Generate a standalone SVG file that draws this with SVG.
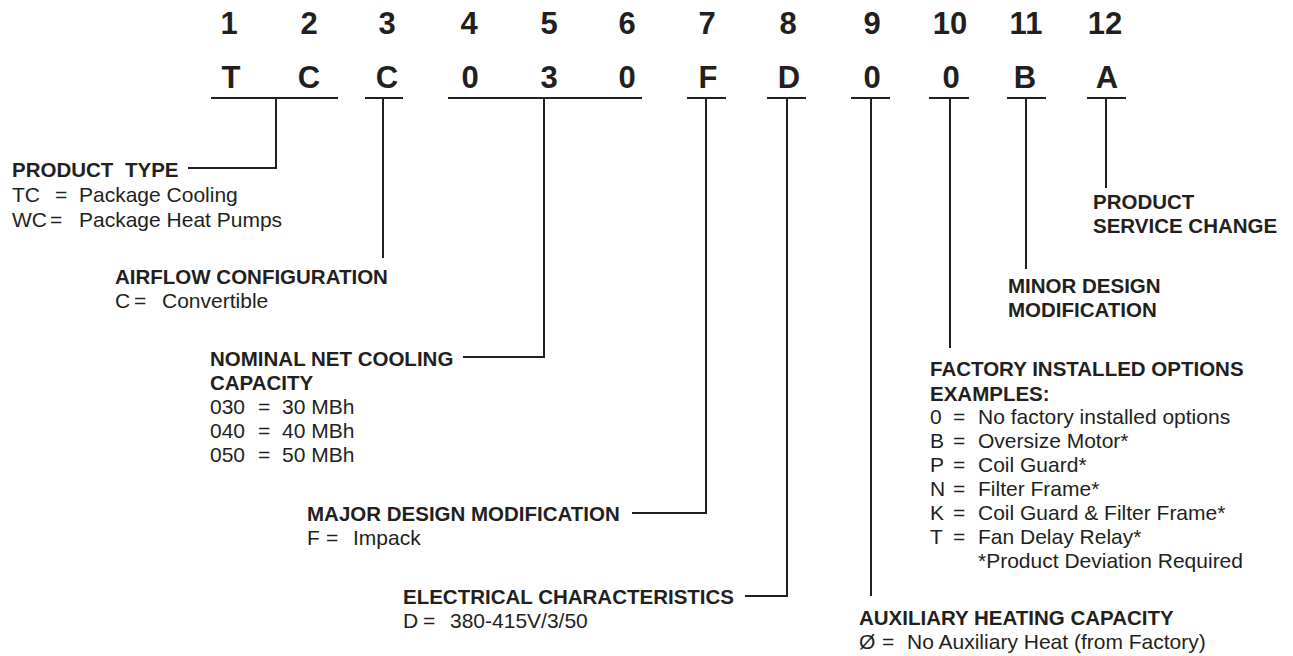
<svg xmlns="http://www.w3.org/2000/svg" width="1293" height="656" viewBox="0 0 1293 656">
<style>
.bg{fill:#ffffff}
.num{font-family:"Liberation Sans",Arial,sans-serif;font-weight:bold;font-size:31px;fill:#231f20;text-anchor:middle}
.code{font-family:"Liberation Sans",Arial,sans-serif;font-weight:bold;font-size:31px;fill:#231f20;text-anchor:middle}
.h{font-family:"Liberation Sans",Arial,sans-serif;font-weight:bold;font-size:20.5px;fill:#231f20}
.t{font-family:"Liberation Sans",Arial,sans-serif;font-size:21px;fill:#231f20}
.ln{fill:none;stroke:#231f20;stroke-width:2}
</style>
<rect class="bg" x="0" y="0" width="1293" height="656"/>
<g id="positions">
<text class="num" x="229" y="34">1</text>
<text class="num" x="309" y="34">2</text>
<text class="num" x="387" y="34">3</text>
<text class="num" x="469" y="34">4</text>
<text class="num" x="549" y="34">5</text>
<text class="num" x="627" y="34">6</text>
<text class="num" x="707" y="34">7</text>
<text class="num" x="788" y="34">8</text>
<text class="num" x="872" y="34">9</text>
<text class="num" x="950" y="34">10</text>
<text class="num" x="1026" y="34">11</text>
<text class="num" x="1105" y="34">12</text>
</g>
<g id="code">
<text class="code" x="231" y="88">T</text>
<text class="code" x="309" y="88">C</text>
<text class="code" x="387" y="88">C</text>
<text class="code" x="470" y="88">0</text>
<text class="code" x="549" y="88">3</text>
<text class="code" x="627" y="88">0</text>
<text class="code" x="708" y="88">F</text>
<text class="code" x="789" y="88">D</text>
<text class="code" x="872" y="88">0</text>
<text class="code" x="951" y="88">0</text>
<text class="code" x="1025" y="88">B</text>
<text class="code" x="1107" y="88">A</text>
</g>
<g id="connectors">
<path class="ln" d="M211 98H338M276 98V168H188"/>
<path class="ln" d="M365 98H403M383 98V258"/>
<path class="ln" d="M448 98H642M544 98V357H463"/>
<path class="ln" d="M687 98H726M706 98V513H632"/>
<path class="ln" d="M767 98H806M787 98V596H745"/>
<path class="ln" d="M851 98H890M871 98V596"/>
<path class="ln" d="M929 98H969M950 98V348"/>
<path class="ln" d="M1007 98H1046M1026 98V269"/>
<path class="ln" d="M1087 98H1126M1106 98V188"/>
</g>
<g id="product-type">
<text class="h" y="177"><tspan x="12">PRODUCT</tspan><tspan x="125">TYPE</tspan></text>
<text class="t" y="202"><tspan x="12">TC</tspan><tspan x="55">=</tspan><tspan x="79">Package Cooling</tspan></text>
<text class="t" y="227"><tspan x="12">WC</tspan><tspan x="50">=</tspan><tspan x="79">Package Heat Pumps</tspan></text>
</g>
<g id="airflow-configuration">
<text class="h" x="115" y="284">AIRFLOW CONFIGURATION</text>
<text class="t" y="308"><tspan x="115">C</tspan><tspan x="134">=</tspan><tspan x="162">Convertible</tspan></text>
</g>
<g id="nominal-net-cooling-capacity">
<text class="h" x="210" y="366">NOMINAL NET COOLING</text>
<text class="h" x="210" y="390">CAPACITY</text>
<text class="t" y="414"><tspan x="210">030</tspan><tspan x="258">=</tspan><tspan x="282">30 MBh</tspan></text>
<text class="t" y="438"><tspan x="210">040</tspan><tspan x="258">=</tspan><tspan x="282">40 MBh</tspan></text>
<text class="t" y="462"><tspan x="210">050</tspan><tspan x="258">=</tspan><tspan x="282">50 MBh</tspan></text>
</g>
<g id="major-design-modification">
<text class="h" x="307" y="521">MAJOR DESIGN MODIFICATION</text>
<text class="t" y="545"><tspan x="307">F</tspan><tspan x="326">=</tspan><tspan x="353">Impack</tspan></text>
</g>
<g id="electrical-characteristics">
<text class="h" x="403" y="604">ELECTRICAL CHARACTERISTICS</text>
<text class="t" y="628"><tspan x="403">D</tspan><tspan x="423">=</tspan><tspan x="450">380-415V/3/50</tspan></text>
</g>
<g id="auxiliary-heating-capacity">
<text class="h" x="859" y="625">AUXILIARY HEATING CAPACITY</text>
<text class="t" y="649"><tspan x="859">Ø</tspan><tspan x="882">=</tspan><tspan x="907">No Auxiliary Heat (from Factory)</tspan></text>
</g>
<g id="factory-installed-options">
<text class="h" x="930" y="376">FACTORY INSTALLED OPTIONS</text>
<text class="h" x="930" y="401">EXAMPLES:</text>
<text class="t" y="424"><tspan x="930">0</tspan><tspan x="953">=</tspan><tspan x="978">No factory installed options</tspan></text>
<text class="t" y="448"><tspan x="930">B</tspan><tspan x="953">=</tspan><tspan x="978">Oversize Motor*</tspan></text>
<text class="t" y="472"><tspan x="930">P</tspan><tspan x="953">=</tspan><tspan x="978">Coil Guard*</tspan></text>
<text class="t" y="496"><tspan x="930">N</tspan><tspan x="953">=</tspan><tspan x="978">Filter Frame*</tspan></text>
<text class="t" y="520"><tspan x="930">K</tspan><tspan x="953">=</tspan><tspan x="978">Coil Guard &amp; Filter Frame*</tspan></text>
<text class="t" y="544"><tspan x="930">T</tspan><tspan x="953">=</tspan><tspan x="978">Fan Delay Relay*</tspan></text>
<text class="t" x="978" y="568">*Product Deviation Required</text>
</g>
<g id="minor-design-modification">
<text class="h" x="1008" y="293">MINOR DESIGN</text>
<text class="h" x="1008" y="317">MODIFICATION</text>
</g>
<g id="product-service-change">
<text class="h" x="1093" y="209">PRODUCT</text>
<text class="h" x="1093" y="233">SERVICE CHANGE</text>
</g>
</svg>
